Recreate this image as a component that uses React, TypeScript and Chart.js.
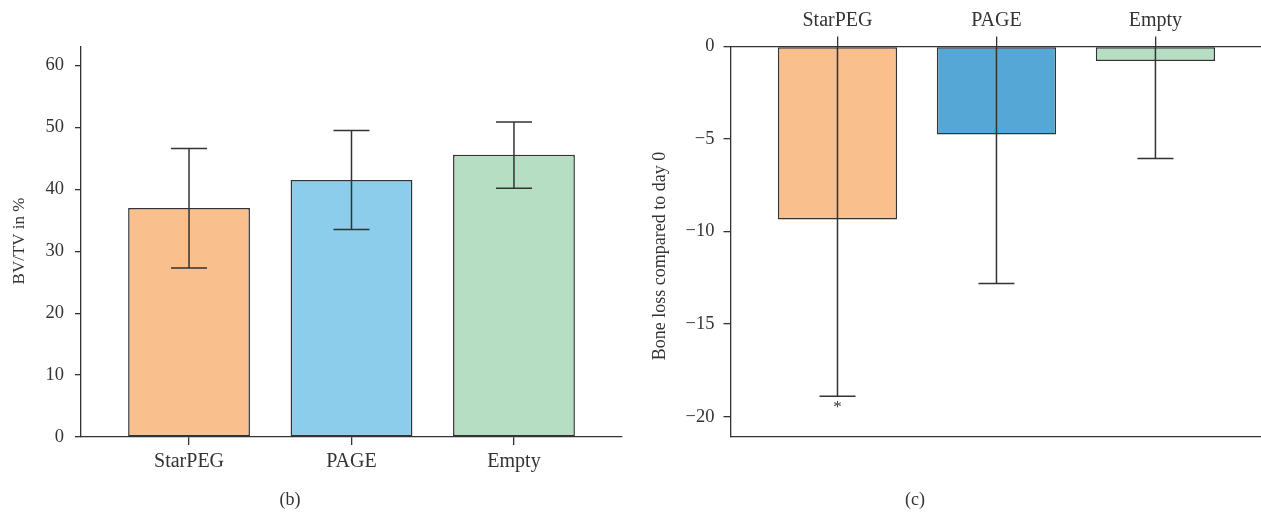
import React, { useEffect, useRef } from "react";
import { Chart, registerables } from "chart.js";

Chart.register(...registerables);

const categories = ["StarPEG", "PAGE", "Empty"];

// Panel (b): BV/TV in %
const bvtvValues = [37.0, 41.5, 45.6];
const bvtvErrLow = [27.3, 33.5, 40.2];
const bvtvErrHigh = [46.6, 49.5, 50.9];
const bvtvColors = ["#F9BF8C", "#8BCDEB", "#B6DEC2"];
const bvtvTicks = [0, 10, 20, 30, 40, 50, 60];

// Panel (c): bone loss compared to day 0
const lossValues = [-9.35, -4.75, -0.78];
const lossErrLow = [-18.9, -12.8, -6.05];
const lossErrHigh = [0, 0, 0];
const lossColors = ["#F9BF8C", "#55A8D6", "#B6DEC2"];
const lossTicks = [-20, -15, -10, -5, 0];
const lossMarks = ["*", "", ""];

const FONT = "'Liberation Serif', 'Times New Roman', serif";
const INK = "#333333";

function errorPlugin(low: number[], high: number[], capHigh: boolean, marks: string[]) {
  return {
    id: "errbars",
    afterDatasetsDraw(chart: any) {
      const ctx = chart.ctx;
      const xs = chart.scales.x;
      const ys = chart.scales.y;
      ctx.save();
      ctx.strokeStyle = INK;
      ctx.lineWidth = 1.5;
      low.forEach((lo, i) => {
        const px = xs.getPixelForValue(i);
        const yl = ys.getPixelForValue(lo);
        const yh = ys.getPixelForValue(high[i]);
        ctx.beginPath();
        ctx.moveTo(px, yh);
        ctx.lineTo(px, yl);
        ctx.moveTo(px - 18, yl);
        ctx.lineTo(px + 18, yl);
        if (capHigh) {
          ctx.moveTo(px - 18, yh);
          ctx.lineTo(px + 18, yh);
        }
        ctx.stroke();
        if (marks[i]) {
          ctx.fillStyle = INK;
          ctx.font = `17px ${FONT}`;
          ctx.textAlign = "center";
          ctx.textBaseline = "top";
          ctx.fillText(marks[i], px, yl + 3);
        }
      });
      ctx.restore();
    },
  };
}

function captionPlugin(text: string, x: number, y: number) {
  return {
    id: "caption",
    afterDraw(chart: any) {
      const ctx = chart.ctx;
      ctx.save();
      ctx.fillStyle = INK;
      ctx.font = `18px ${FONT}`;
      ctx.textAlign = "center";
      ctx.textBaseline = "middle";
      ctx.fillText(text, x, y);
      ctx.restore();
    },
  };
}

function yTitlePlugin(text: string, x: number, y: number, size: number) {
  return {
    id: "ytitle",
    afterDraw(chart: any) {
      const ctx = chart.ctx;
      ctx.save();
      ctx.fillStyle = INK;
      ctx.font = `${size}px ${FONT}`;
      ctx.translate(x, y);
      ctx.rotate(-Math.PI / 2);
      ctx.textAlign = "center";
      ctx.textBaseline = "middle";
      ctx.fillText(text, 0, 0);
      ctx.restore();
    },
  };
}

const axisGrid = (len: number) => ({
  display: true,
  drawOnChartArea: false,
  drawTicks: true,
  tickLength: len,
  color: INK,
  lineWidth: 1.3,
});
const axisBorder = { display: true, color: INK, width: 1.3 };

export default function App() {
  const leftRef = useRef<HTMLCanvasElement>(null);
  const rightRef = useRef<HTMLCanvasElement>(null);

  useEffect(() => {
    document.body.style.margin = "0";
    const left = new Chart(leftRef.current!, {
      type: "bar",
      data: {
        datasets: [
          {
            data: bvtvValues.map((v, i) => ({ x: i, y: v })),
            backgroundColor: bvtvColors,
            borderColor: INK,
            borderWidth: 1.5,
            borderSkipped: false,
            categoryPercentage: 1,
            barPercentage: 0.75,
          },
        ],
      },
      options: {
        animation: false,
        responsive: false,
        events: [],
        layout: { padding: { left: 0, right: 18, top: 47, bottom: 0 } },
        plugins: { legend: { display: false }, tooltip: { enabled: false } },
        scales: {
          x: {
            type: "linear",
            min: -0.665,
            max: 2.665,
            offset: false,
            afterBuildTicks: (s: any) => {
              s.ticks = categories.map((_, i) => ({ value: i }));
            },
            afterFit: (s: any) => {
              s.height = 76;
            },
            ticks: {
              callback: (v: any) => categories[v] ?? "",
              color: INK,
              font: { family: FONT, size: 20 },
              padding: 5,
              maxRotation: 0,
              autoSkip: false,
            },
            grid: { ...axisGrid(8), offset: false },
            border: axisBorder,
          },
          y: {
            min: 0,
            max: 63,
            afterBuildTicks: (s: any) => {
              s.ticks = bvtvTicks.map((v) => ({ value: v }));
            },
            afterFit: (s: any) => {
              s.width = 81;
            },
            ticks: {
              color: INK,
              font: { family: FONT, size: 18.5 },
              padding: 11,
            },
            grid: axisGrid(6),
            border: axisBorder,
          },
        },
      },
      plugins: [
        errorPlugin(bvtvErrLow, bvtvErrHigh, true, ["", "", ""]),
        captionPlugin("(b)", 290, 500),
        yTitlePlugin("BV/TV in %", 20, 241, 17),
      ],
    } as any);

    const right = new Chart(rightRef.current!, {
      type: "bar",
      data: {
        datasets: [
          {
            data: lossValues.map((v, i) => ({ x: i, y: v })),
            backgroundColor: lossColors,
            borderColor: INK,
            borderWidth: 1.5,
            borderSkipped: false,
            categoryPercentage: 1,
            barPercentage: 0.75,
          },
        ],
      },
      options: {
        animation: false,
        responsive: false,
        events: [],
        layout: { padding: { left: 0, right: 0, top: 0, bottom: 0 } },
        plugins: { legend: { display: false }, tooltip: { enabled: false } },
        scales: {
          x: {
            type: "linear",
            position: "top",
            min: -0.673,
            max: 2.664,
            offset: false,
            afterBuildTicks: (s: any) => {
              s.ticks = categories.map((_, i) => ({ value: i }));
            },
            afterFit: (s: any) => {
              s.height = 46.5;
            },
            ticks: {
              callback: (v: any) => categories[v] ?? "",
              color: INK,
              font: { family: FONT, size: 20 },
              padding: 4,
              maxRotation: 0,
              autoSkip: false,
            },
            grid: { ...axisGrid(10), offset: false },
            border: axisBorder,
          },
          x2: {
            type: "linear",
            position: "bottom",
            min: -0.673,
            max: 2.664,
            offset: false,
            afterFit: (s: any) => {
              s.height = 76;
            },
            ticks: { display: false },
            grid: { display: true, drawOnChartArea: false, drawTicks: false },
            border: axisBorder,
          },
          y: {
            min: -21.1,
            max: 0,
            afterBuildTicks: (s: any) => {
              s.ticks = lossTicks.map((v) => ({ value: v }));
            },
            afterFit: (s: any) => {
              s.width = 90.5;
            },
            ticks: {
              color: INK,
              font: { family: FONT, size: 18.5 },
              padding: 9,
              callback: (v: any) => (v < 0 ? "\u2212" + Math.abs(v) : String(v)),
            },
            grid: axisGrid(7),
            border: axisBorder,
          },
        },
      },
      plugins: [
        errorPlugin(lossErrLow, lossErrHigh, false, lossMarks),
        captionPlugin("(c)", 275, 500),
        yTitlePlugin("Bone loss compared to day 0", 20, 256, 18),
      ],
    } as any);

    return () => {
      left.destroy();
      right.destroy();
    };
  }, []);

  return (
    <div style={{ position: "relative", width: 1261, height: 513, background: "#fff" }}>
      <canvas ref={leftRef} width={640} height={513} style={{ position: "absolute", left: 0, top: 0 }} />
      <canvas ref={rightRef} width={621} height={513} style={{ position: "absolute", left: 640, top: 0 }} />
    </div>
  );
}
